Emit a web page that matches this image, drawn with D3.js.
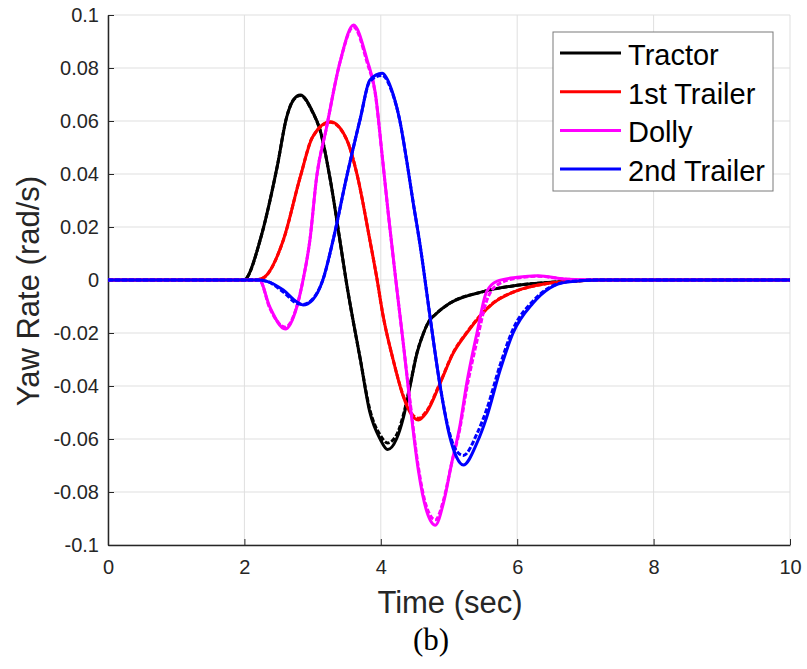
<!doctype html>
<html lang="en">
<head>
<meta charset="UTF-8">
<title>Yaw Rate</title>
<script src="https://d3js.org/d3.v7.min.js"></script>
<style>
  body { margin: 0; background: #fff; }
  svg { display: block; }
  .tick text { font-family: "Liberation Sans", Arial, sans-serif; font-size: 20px; fill: #262626; }
</style>
</head>
<body>
<svg id="chart" width="807" height="669"></svg>
<script>
// time (sec) / yaw rate (rad/s)
const tractorT = [0, 2.0, 2.04, 2.23, 2.48, 2.62, 2.72, 2.82, 3.0, 3.11, 3.26, 3.4, 3.49, 3.7, 3.84, 3.99, 4.1, 4.23, 4.33, 4.43, 4.53, 4.62, 4.7, 4.8, 5.01, 5.5, 6.0, 6.63, 7.2, 10];
const tractorY = [0, 0, 0.001, 0.015, 0.0427, 0.0615, 0.068, 0.0698, 0.0635, 0.0566, 0.0377, 0.015, 0, -0.030, -0.050, -0.060, -0.064, -0.060, -0.052, -0.040, -0.0277, -0.0205, -0.0158, -0.013, -0.0088, -0.0044, -0.002, -0.0007, 0, 0];
const tractorY2 = [0, 0, 0.001, 0.015, 0.0427, 0.0615, 0.068, 0.0696, 0.0633, 0.0564, 0.0377, 0.015, 0, -0.030, -0.049, -0.0585, -0.0615, -0.0585, -0.051, -0.0395, -0.0275, -0.0205, -0.0158, -0.013, -0.0088, -0.0044, -0.002, -0.0007, 0, 0];

const trailer1T = [0, 2.15, 2.27, 2.57, 2.82, 3.0, 3.26, 3.5, 3.65, 3.84, 3.94, 4.03, 4.18, 4.33, 4.43, 4.55, 4.67, 4.87, 5.06, 5.26, 5.65, 6.0, 6.4, 6.8, 7.3, 10];
const trailer1Y = [0, 0, 0.0007, 0.015, 0.039, 0.054, 0.0597, 0.053, 0.040, 0.015, 0.001, -0.013, -0.030, -0.044, -0.050, -0.0528, -0.050, -0.039, -0.0277, -0.020, -0.0087, -0.004, -0.0015, -0.0005, 0, 0];
const trailer1Y2 = [0, 0, 0.0007, 0.015, 0.039, 0.054, 0.0595, 0.053, 0.040, 0.015, 0.001, -0.013, -0.030, -0.0437, -0.0495, -0.0522, -0.0495, -0.0387, -0.0275, -0.0198, -0.0086, -0.004, -0.0015, -0.0005, 0, 0];

const dollyT = [0, 2.1, 2.22, 2.37, 2.6, 2.77, 2.86, 2.96, 3.06, 3.2, 3.4, 3.6, 3.8, 3.92, 4.02, 4.11, 4.22, 4.33, 4.43, 4.55, 4.67, 4.8, 4.92, 5.04, 5.16, 5.26, 5.41, 5.55, 5.7, 6.0, 6.3, 6.73, 7.2, 10];
const dollyY = [0, 0, 0, -0.010, -0.0185, -0.010, 0, 0.015, 0.039, 0.057, 0.082, 0.0962, 0.083, 0.0706, 0.047, 0.025, 0, -0.024, -0.047, -0.0717, -0.087, -0.0925, -0.084, -0.069, -0.055, -0.039, -0.020, -0.0045, -0.0005, 0.001, 0.0016, 0.0003, 0, 0];
const dollyY2 = [0, 0, 0, -0.0105, -0.0178, -0.0098, 0, 0.015, 0.039, 0.057, 0.082, 0.0955, 0.082, 0.0700, 0.047, 0.025, 0, -0.024, -0.046, -0.0705, -0.0855, -0.0905, -0.083, -0.069, -0.056, -0.041, -0.023, -0.008, -0.002, 0.0007, 0.0014, 0.0003, 0, 0];

const trailer2T = [0, 2.2, 2.33, 2.57, 2.77, 2.86, 3.0, 3.15, 3.3, 3.5, 3.7, 3.84, 4.02, 4.16, 4.28, 4.38, 4.47, 4.58, 4.72, 4.87, 5.01, 5.11, 5.21, 5.41, 5.55, 5.75, 5.94, 6.23, 6.48, 6.73, 7.2, 10];
const trailer2Y = [0, 0, -0.0005, -0.0038, -0.0083, -0.0094, -0.0075, 0, 0.015, 0.039, 0.061, 0.0755, 0.078, 0.0717, 0.060, 0.045, 0.030, 0.0125, -0.0135, -0.040, -0.059, -0.0668, -0.0698, -0.0615, -0.052, -0.034, -0.020, -0.0088, -0.003, -0.0008, 0, 0];
const trailer2Y2 = [0, 0, -0.0005, -0.0045, -0.0088, -0.0092, -0.0072, 0, 0.015, 0.039, 0.061, 0.075, 0.0772, 0.0712, 0.060, 0.045, 0.030, 0.0125, -0.0135, -0.040, -0.058, -0.0645, -0.0662, -0.0580, -0.049, -0.032, -0.0185, -0.008, -0.0027, -0.0007, 0, 0];

const seriesNames = ['Tractor', '1st Trailer', 'Dolly', '2nd Trailer'];
const seriesColors = ['#000000', '#ff0000', '#ff00ff', '#0000ff'];
const xTicks = [0, 2, 4, 6, 8, 10];
const yTicks = [-0.1, -0.08, -0.06, -0.04, -0.02, 0, 0.02, 0.04, 0.06, 0.08, 0.1];

const series = [
  { t: tractorT, y: tractorY, y2: tractorY2 },
  { t: trailer1T, y: trailer1Y, y2: trailer1Y2 },
  { t: dollyT, y: dollyY, y2: dollyY2 },
  { t: trailer2T, y: trailer2Y, y2: trailer2Y2 }
];

const svg = d3.select('#chart');
const mLeft = 108, mRight = 790, mTop = 15, mBottom = 545;
const sans = '"Liberation Sans", Arial, sans-serif';

const x = d3.scaleLinear().domain([0, 10]).range([mLeft, mRight]);
const y = d3.scaleLinear().domain([-0.1, 0.1]).range([mBottom, mTop]);

// grid
const grid = svg.append('g');
grid.selectAll('.gx').data(xTicks).enter().append('line')
  .attr('x1', d => x(d)).attr('x2', d => x(d))
  .attr('y1', mTop).attr('y2', mBottom)
  .attr('stroke', '#dfdfdf').attr('stroke-width', 1);
grid.selectAll('.gy').data(yTicks).enter().append('line')
  .attr('x1', mLeft).attr('x2', mRight)
  .attr('y1', d => y(d)).attr('y2', d => y(d))
  .attr('stroke', '#dfdfdf').attr('stroke-width', 1);

// axes
const xAxis = svg.append('g')
  .attr('transform', `translate(0, ${mBottom})`)
  .call(d3.axisBottom(x).tickValues(xTicks).tickFormat(d3.format('d')).tickSizeInner(-6).tickSizeOuter(0).tickPadding(15));
const yAxis = svg.append('g')
  .attr('transform', `translate(${mLeft}, 0)`)
  .call(d3.axisLeft(y).tickValues(yTicks).tickFormat(d => d === 0 ? '0' : String(+d.toFixed(2))).tickSizeInner(-6).tickSizeOuter(0).tickPadding(9));
[xAxis, yAxis].forEach(a => {
  a.select('.domain').attr('stroke', '#262626').attr('stroke-width', 1.5);
  a.selectAll('.tick line').attr('stroke', '#262626');
});

// curves
const line = d3.line().curve(d3.curveMonotoneX);
const plot = svg.append('g');
series.forEach((s, i) => {
  const pts2 = s.t.map((t, k) => [x(t), y(s.y2[k])]);
  const pts = s.t.map((t, k) => [x(t), y(s.y[k])]);
  plot.append('path').attr('d', line(pts2))
    .attr('fill', 'none').attr('stroke', seriesColors[i]).attr('stroke-width', 3)
    .attr('stroke-dasharray', '5,2');
  plot.append('path').attr('d', line(pts))
    .attr('fill', 'none').attr('stroke', seriesColors[i]).attr('stroke-width', 3);
});

// legend
const lg = svg.append('g');
lg.append('rect').attr('x', 553).attr('y', 32).attr('width', 220).attr('height', 159)
  .attr('fill', '#fff').attr('stroke', '#7a7a7a').attr('stroke-width', 1);
seriesNames.forEach((n, i) => {
  const base = 65 + i * 38.7;
  lg.append('line').attr('x1', 560).attr('x2', 621).attr('y1', base - 12).attr('y2', base - 12)
    .attr('stroke', seriesColors[i]).attr('stroke-width', 3);
  lg.append('text').attr('x', 628).attr('y', base)
    .attr('font-family', sans).attr('font-size', 29)
    .attr('fill', '#000').text(n);
});

// labels
svg.append('text').attr('x', 450).attr('y', 613).attr('text-anchor', 'middle')
  .attr('font-family', sans).attr('font-size', 31)
  .attr('fill', '#262626').text('Time (sec)');
svg.append('text').attr('transform', 'translate(39, 291) rotate(-90)')
  .attr('text-anchor', 'middle')
  .attr('font-family', sans).attr('font-size', 31)
  .attr('fill', '#262626').text('Yaw Rate (rad/s)');
svg.append('text').attr('x', 431).attr('y', 650).attr('text-anchor', 'middle')
  .attr('font-family', '"Liberation Serif", "Times New Roman", serif').attr('font-size', 31)
  .attr('fill', '#000').text('(b)');
</script>
</body>
</html>
